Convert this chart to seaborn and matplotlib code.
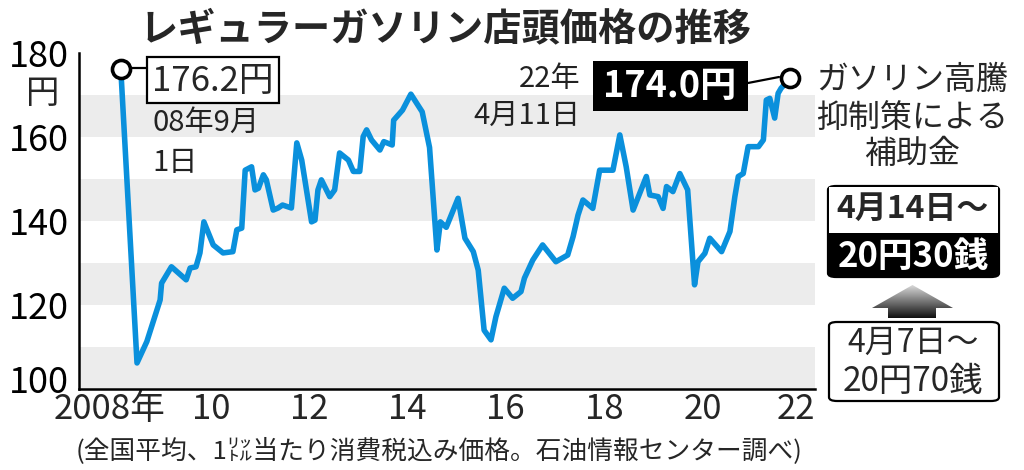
import numpy as np
import matplotlib
matplotlib.use("Agg")
import matplotlib.pyplot as plt
import matplotlib.transforms as mtransforms
import seaborn as sns
from matplotlib.patches import Rectangle, FancyBboxPatch, Polygon
from matplotlib.lines import Line2D

# ─── データ（石油情報センター、レギュラーガソリン店頭価格）────────────
years = [2008.67, 2009.00, 2009.20, 2009.47, 2009.50, 2009.70, 2010.00, 2010.08,
         2010.20, 2010.28, 2010.36, 2010.55, 2010.75, 2010.95, 2011.03, 2011.13,
         2011.20, 2011.33, 2011.40, 2011.47, 2011.57, 2011.63, 2011.77, 2011.87,
         2011.96, 2012.14, 2012.25, 2012.35, 2012.55, 2012.62, 2012.68, 2012.75,
         2012.92, 2013.02, 2013.12, 2013.30, 2013.40, 2013.53, 2013.60, 2013.67,
         2013.77, 2013.94, 2014.02, 2014.19, 2014.22, 2014.40, 2014.57, 2014.80,
         2014.95, 2015.10, 2015.17, 2015.29, 2015.53, 2015.67, 2015.84, 2015.94,
         2016.06, 2016.20, 2016.30, 2016.47, 2016.64, 2016.81, 2016.88, 2017.05,
         2017.25, 2017.52, 2017.76, 2017.87, 2017.97, 2018.07, 2018.27, 2018.41,
         2018.68, 2018.82, 2018.95, 2019.09, 2019.36, 2019.43, 2019.60, 2019.70,
         2019.77, 2019.90, 2020.04, 2020.20, 2020.34, 2020.41, 2020.55, 2020.65,
         2020.89, 2021.06, 2021.16, 2021.23, 2021.33, 2021.43, 2021.64, 2021.74,
         2021.80, 2021.87, 2021.97, 2022.04, 2022.10, 2022.28]
prices = [176.2, 106.2, 111.3, 121.2, 125.2, 129.1, 126.0, 128.8,
          129.1, 132.4, 139.8, 134.3, 132.4, 132.7, 137.9, 138.3,
          152.1, 152.9, 147.4, 147.8, 151.0, 149.8, 142.6, 143.1,
          143.8, 143.1, 158.6, 154.5, 139.8, 140.2, 147.4, 149.8,
          145.8, 147.4, 156.2, 154.5, 151.8, 151.8, 160.1, 161.7,
          159.3, 156.9, 158.9, 158.1, 164.0, 166.4, 170.2, 166.0,
          157.5, 133.1, 139.8, 138.5, 145.4, 135.9, 132.7, 128.3,
          114.0, 111.7, 117.2, 124.0, 121.6, 123.2, 126.4, 130.7,
          134.3, 130.3, 131.9, 136.3, 141.4, 145.0, 143.0, 152.1,
          152.1, 160.5, 152.9, 142.6, 150.6, 146.2, 145.8, 143.0,
          148.2, 147.0, 151.3, 147.4, 124.8, 130.3, 132.3, 135.9,
          132.7, 137.5, 145.8, 150.6, 151.3, 157.7, 157.7, 159.3,
          168.8, 169.2, 164.5, 170.4, 171.6, 174.0]

year_ticks = list(range(2009, 2023))
year_labels = ["2008年", "10", "12", "14", "16", "18", "20", "22"]
year_label_pos = [2008.45, 2010.5, 2012.5, 2014.5, 2016.5, 2018.5, 2020.5, 2022.4]
y_labels = [100, 120, 140, 160, 180]
bands = [(100, 110), (120, 130), (140, 150), (160, 170)]

first_label = "176.2円"
first_date = ["08年9月", "1日"]
last_label = "174.0円"
last_date = ["22年", "4月11日"]

title = "レギュラーガソリン店頭価格の推移"
side_note = ["ガソリン高騰", "抑制策による", "補助金"]
new_subsidy = ["4月14日～", "20円30銭"]
old_subsidy = ["4月7日～", "20円70銭"]
caption = "(全国平均、1㍑当たり消費税込み価格。石油情報センター調べ)"

LINE_BLUE = "#0a90dc"
BAND_GRAY = "#ececec"

sns.set_style("white")
plt.rcParams['font.family'] = ['Noto Sans CJK JP', 'DejaVu Sans']

W, H = 1024, 470
fig = plt.figure(figsize=(W / 100, H / 100), dpi=100)


def fx(x):
    return x / W


def fy(y):
    return 1 - y / H


ax = fig.add_axes([fx(79), fy(389), fx(815) - fx(79), fy(53) - fy(389)])

for lo, hi in bands:
    ax.axhspan(lo, hi, color=BAND_GRAY, lw=0, zorder=0)

sns.lineplot(x=years, y=prices, ax=ax, color=LINE_BLUE, linewidth=4.0,
             solid_joinstyle='round', solid_capstyle='round', zorder=3)

# 始点・終点の丸
for xv, yv in [(years[0], prices[0]), (years[-1], prices[-1])]:
    ax.plot(xv, yv, marker='o', ms=13, mfc='white', mec='black', mew=2.6,
            clip_on=False, zorder=5)

ax.set_xlim(2007.82, 2022.79)
ax.set_ylim(100, 180)

for s in ['top', 'right']:
    ax.spines[s].set_visible(False)
for s in ['left', 'bottom']:
    ax.spines[s].set_color('black')
    ax.spines[s].set_linewidth(1.8)

ax.set_yticks(np.arange(100, 181, 10))
ax.set_yticklabels([str(v) if v in y_labels else "" for v in range(100, 181, 10)])
ax.tick_params(axis='y', direction='in', length=11, width=1.6, colors='black',
               labelsize=26, pad=7)
ax.set_xticks(year_ticks)
ax.set_xticklabels([])
ax.tick_params(axis='x', which='major', direction='in', length=8, width=1.6)
ax.set_xticks(year_label_pos, minor=True)
ax.set_xticklabels(year_labels, minor=True)
ax.tick_params(axis='x', which='minor', length=0, labelsize=25, pad=2)
ax.set_xlabel("")
ax.set_ylabel("")
ax.grid(False)

# 100 のラベルは少し上へ
lbl100 = ax.get_yticklabels()[0]
lbl100.set_transform(lbl100.get_transform() +
                     mtransforms.ScaledTranslation(0, 10 / 100, fig.dpi_scale_trans))

fig.text(fx(43), fy(93), "円", fontsize=24, ha='center', va='center')

# タイトル
fig.text(fx(446), fy(29), title, fontsize=27.5, fontweight='bold',
         ha='center', va='center')

# 始点ラベル
fig.add_artist(Line2D([fx(131), fx(147)], [fy(68), fy(68)], color='black', lw=1.6))
fig.patches.append(Rectangle((fx(147), fy(103)), fx(279) - fx(147), fy(57) - fy(103),
                             transform=fig.transFigure, facecolor='white',
                             edgecolor='black', lw=1.6, figure=fig))
fig.text(fx(213), fy(81), first_label, fontsize=25, ha='center', va='center')
fig.text(fx(152), fy(123), first_date[0], fontsize=21, ha='left', va='center',
         color='#222222')
fig.text(fx(152), fy(163), first_date[1], fontsize=21, ha='left', va='center',
         color='#222222')

# 終点ラベル
fig.add_artist(Line2D([fx(748), fx(779)], [fy(83), fy(77)], color='black', lw=1.6))
fig.patches.append(Rectangle((fx(593), fy(111)), fx(748) - fx(593), fy(61) - fy(111),
                             transform=fig.transFigure, facecolor='black',
                             edgecolor='black', lw=0, figure=fig))
fig.text(fx(670), fy(87), last_label, fontsize=26, fontweight='bold',
         color='white', ha='center', va='center')
fig.text(fx(580), fy(79), last_date[0], fontsize=21, ha='right', va='center',
         color='#222222')
fig.text(fx(580), fy(116), last_date[1], fontsize=21, ha='right', va='center',
         color='#222222')

# 右側の注記
for txt, yy in zip(side_note, [80, 118, 154]):
    fig.text(fx(912), fy(yy), txt, fontsize=23, ha='center', va='center')

box1 = FancyBboxPatch((fx(828), fy(277)), fx(999) - fx(828), fy(186) - fy(277),
                      boxstyle="round,pad=0,rounding_size=0.008",
                      transform=fig.transFigure, facecolor='black',
                      edgecolor='black', lw=1.6, figure=fig)
fig.patches.append(box1)
fig.patches.append(Rectangle((fx(829), fy(233)), fx(998) - fx(829), fy(187) - fy(233),
                             transform=fig.transFigure, facecolor='white',
                             edgecolor='none', figure=fig))
fig.text(fx(913), fy(209), new_subsidy[0], fontsize=23, fontweight='bold',
         ha='center', va='center')
fig.text(fx(913), fy(257), new_subsidy[1], fontsize=25, fontweight='bold',
         color='white', ha='center', va='center')

box2 = FancyBboxPatch((fx(829), fy(401)), fx(999) - fx(829), fy(322) - fy(401),
                      boxstyle="round,pad=0,rounding_size=0.008",
                      transform=fig.transFigure, facecolor='white',
                      edgecolor='black', lw=1.6, figure=fig)
fig.patches.append(box2)
fig.text(fx(913), fy(343), old_subsidy[0], fontsize=23, ha='center', va='center')
fig.text(fx(913), fy(382), old_subsidy[1], fontsize=24, ha='center', va='center')

# グラデーション矢印
arr_ax = fig.add_axes([fx(872), fy(318), fx(953) - fx(872), fy(285) - fy(318)])
arr_ax.set_axis_off()
grad = np.linspace(0, 1, 100).reshape(-1, 1)
img = arr_ax.imshow(grad, extent=[0, 1, 0, 1], origin='upper', aspect='auto',
                    cmap=matplotlib.colors.LinearSegmentedColormap.from_list(
                        "g", ["#d8d8d8", "#111111"]))
sx0, sx1 = (888 - 872) / 81, (936 - 872) / 81
base = (318 - 308) / 33
clip = Polygon([[0.5, 1], [0, base], [sx0, base], [sx0, 0], [sx1, 0], [sx1, base],
                [1, base]], closed=True, transform=arr_ax.transAxes,
               facecolor='none', edgecolor='none')
arr_ax.add_patch(clip)
img.set_clip_path(clip)
arr_ax.set_xlim(0, 1)
arr_ax.set_ylim(0, 1)

# 出典
fig.text(fx(439), fy(451), caption, fontsize=18.5, ha='center', va='center')

fig.savefig("out.png", dpi=100)
